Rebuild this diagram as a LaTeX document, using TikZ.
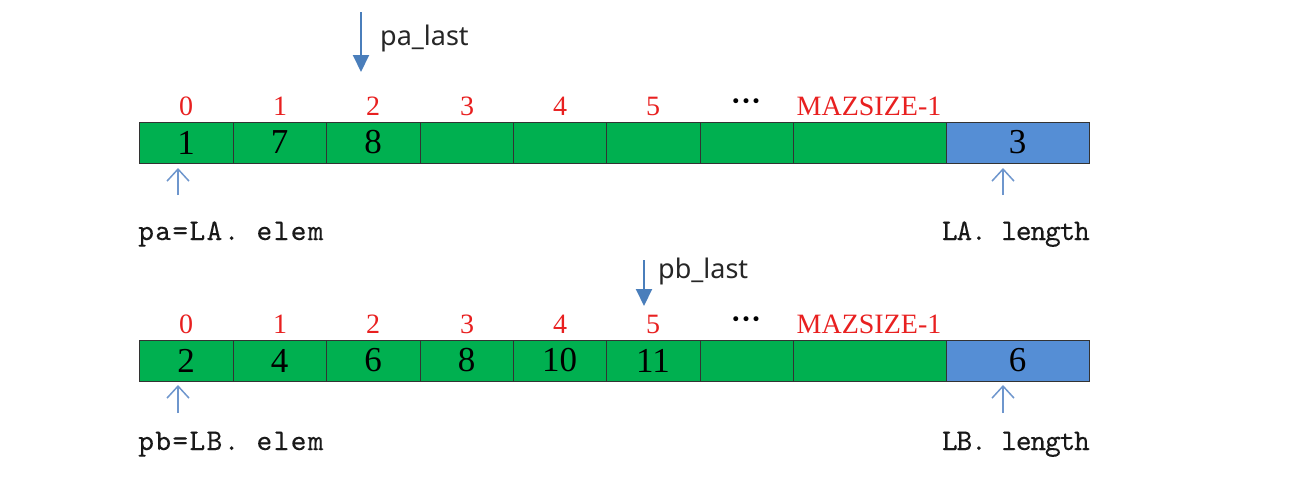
\documentclass[tikz,border=0pt]{standalone}
\usepackage{fontspec}
\setmainfont{Liberation Serif}
\newfontfamily\sansf{Noto Sans}
\newfontfamily\dejavu{DejaVu Sans}
\newfontfamily\elemfont{lmmono10-regular.otf}[LetterSpace=4.5,FakeBold=0.15]
\newfontfamily\lenfont{lmmono10-regular.otf}[LetterSpace=-4,FakeBold=0.15]
\usetikzlibrary{arrows.meta}
\definecolor{cellgreen}{RGB}{0,176,80}
\definecolor{cellblue}{RGB}{85,142,213}
\definecolor{idxred}{RGB}{232,32,32}
\definecolor{arrblue}{RGB}{74,126,187}
\definecolor{ptrblue}{RGB}{110,150,205}
\begin{document}
\begin{tikzpicture}[x=1pt,y=-1pt,
  cell/.style={draw=black!80, line width=0.9pt, fill=cellgreen, minimum height=41pt,
    inner sep=0pt, outer sep=0pt, font=\fontsize{35pt}{35pt}\selectfont},
  lencell/.style={cell, fill=cellblue},
  idx/.style={anchor=base, inner sep=0pt, text=idxred, font=\fontsize{28pt}{28pt}\selectfont},
  dots/.style={inner sep=0pt, font=\dejavu\fontsize{17pt}{17pt}\selectfont},
  elemlbl/.style={anchor=base west, inner sep=0pt, text=black!90,
    font=\elemfont\fontsize{30pt}{30pt}\selectfont},
  lenlbl/.style={anchor=base east, inner sep=0pt, text=black!90,
    font=\lenfont\fontsize{30pt}{30pt}\selectfont},
  lastlbl/.style={anchor=base west, inner sep=0pt, text=black!85, font=\sansf\fontsize{27pt}{27pt}\selectfont},
  ptrdown/.style={arrblue, line width=2pt, -{Triangle[width=16pt,length=17pt]}},
  ptrup/.style={ptrblue, line width=1.5pt, -{Straight Barb[width=22pt,length=12pt]}}
]
\useasboundingbox (0,0) rectangle (1297,485);

% ---------- top array ----------
\foreach \i/\cx/\w/\v in {0/186/94/1,1/279.5/93/7,2/373/94/8,3/466.5/93/{},4/559.5/93/{},5/653/94/{},6/746.5/93/{},7/869.5/153/{}}
  \node[cell, minimum width=\w] (a\i) at (\cx,142.5) {\v};
\node[lencell, minimum width=143] (alen) at (1017.5,142.5) {3};

\foreach \i/\cx in {0/186,1/280,2/373,3/467,4/560,5/653}
  \node[idx] (ai\i) at (\cx,115) {\i};
\node[dots] (adots) at (746,103) {•••};
\node[idx] (aimax) at (869,115) {MAZSIZE-1};

\coordinate (pas) at (361,12);
\coordinate (pae) at (361,72);
\draw[ptrdown] (pas) -- (pae);
\node[lastlbl] (palast) at (380,45) {pa\_last};

\coordinate (pab) at (178,195);
\coordinate (pat) at (178,168);
\draw[ptrup] (pab) -- (pat);
\node[elemlbl] (pa) at (138,240) {pa=LA. elem};

\coordinate (lab) at (1003,195);
\coordinate (lat) at (1003,168);
\draw[ptrup] (lab) -- (lat);
\node[lenlbl] (lalen) at (1090,240) {LA. length};

% ---------- bottom array ----------
\foreach \i/\cx/\w/\v in {0/186/94/2,1/279.5/93/4,2/373/94/6,3/466.5/93/8,4/559.5/93/10,5/653/94/11,6/746.5/93/{},7/869.5/153/{}}
  \node[cell, minimum width=\w] (b\i) at (\cx,360.5) {\v};
\node[lencell, minimum width=143] (blen) at (1017.5,360.5) {6};

\foreach \i/\cx in {0/186,1/280,2/373,3/467,4/560,5/653}
  \node[idx] (bi\i) at (\cx,333) {\i};
\node[dots] (bdots) at (746,321) {•••};
\node[idx] (bimax) at (869,333) {MAZSIZE-1};

\coordinate (pbs) at (644,260);
\coordinate (pbe) at (644,306);
\draw[ptrdown] (pbs) -- (pbe);
\node[lastlbl] (pblast) at (658,278) {pb\_last};

\coordinate (pbb) at (178,413);
\coordinate (pbt) at (178,385);
\draw[ptrup] (pbb) -- (pbt);
\node[elemlbl] (pb) at (138,450) {pb=LB. elem};

\coordinate (lbb) at (1003,413);
\coordinate (lbt) at (1003,385);
\draw[ptrup] (lbb) -- (lbt);
\node[lenlbl] (lblen) at (1090,450) {LB. length};
\end{tikzpicture}
\end{document}
